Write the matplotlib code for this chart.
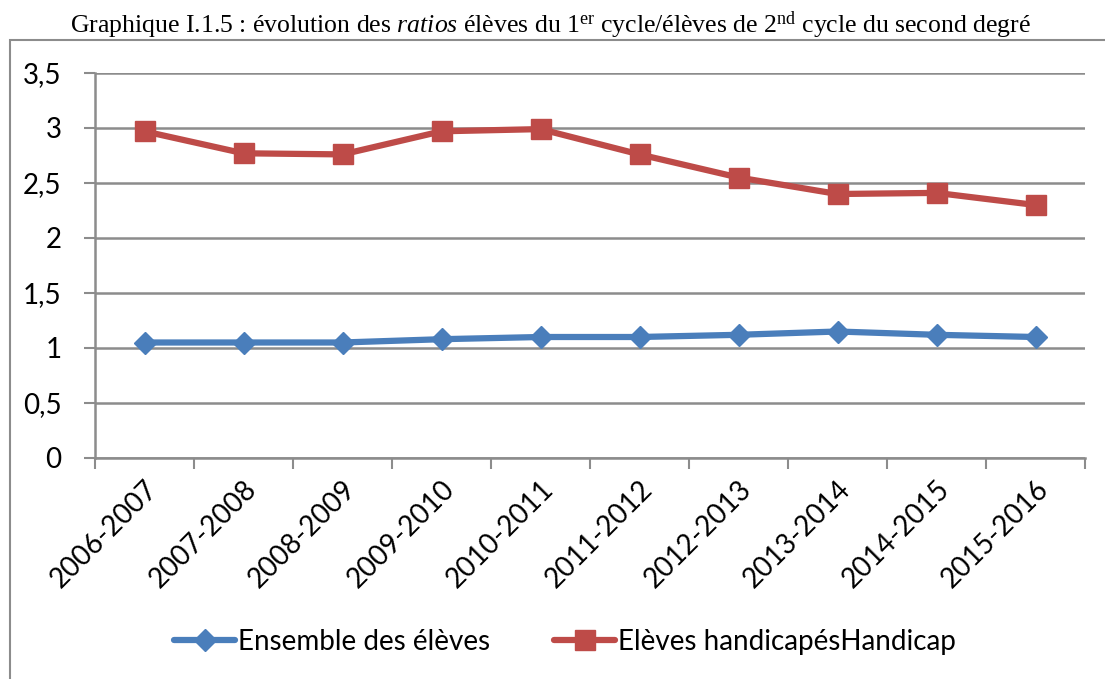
import matplotlib
matplotlib.use("Agg")
import matplotlib.pyplot as plt
from matplotlib.patches import Rectangle

categories = ["2006-2007", "2007-2008", "2008-2009", "2009-2010", "2010-2011",
              "2011-2012", "2012-2013", "2013-2014", "2014-2015", "2015-2016"]
ensemble = [1.05, 1.05, 1.05, 1.08, 1.10, 1.10, 1.12, 1.15, 1.12, 1.10]
handicap = [2.97, 2.77, 2.76, 2.97, 2.99, 2.76, 2.55, 2.40, 2.41, 2.30]
yticks = [0, 0.5, 1, 1.5, 2, 2.5, 3, 3.5]
ytick_labels = ["0", "0,5", "1", "1,5", "2", "2,5", "3", "3,5"]
series_names = ["Ensemble des élèves", "Elèves handicapésHandicap"]

plt.rcParams['mathtext.fontset'] = 'custom'
plt.rcParams['mathtext.rm'] = 'Liberation Serif'
plt.rcParams['mathtext.it'] = 'Liberation Serif:italic'

W, H = 1105, 679
fig = plt.figure(figsize=(W / 100, H / 100), dpi=100)

# outer frame
fig.patches.append(Rectangle((10 / W, -0.05), 1.2, (H - 40) / H + 0.05, transform=fig.transFigure,
                             fill=False, edgecolor="#8c8c8c", linewidth=1.5))

fig.text(550 / W, 1 - 25 / H,
         r"Graphique I.1.5 : évolution des $\it{ratios}$ élèves du 1$^{\rm er}$ cycle/élèves de 2$^{\rm nd}$ cycle du second degré",
         ha="center", va="center", fontsize=18.5, family="Liberation Serif")

ax = fig.add_axes([95 / W, 1 - 458 / H, (1085 - 95) / W, (458 - 73) / H])
x = list(range(len(categories)))
blue = "#4A7EBB"
red = "#BE4B48"
ax.plot(x, ensemble, color=blue, linewidth=4.5, marker="D", markersize=11,
        markeredgecolor=blue, label=series_names[0], solid_capstyle="round")
ax.plot(x, handicap, color=red, linewidth=4.5, marker="s", markersize=14,
        markeredgecolor=red, label=series_names[1], solid_capstyle="round")

ax.set_xlim(-0.5, len(categories) - 0.5)
ax.set_ylim(0, 3.5)
ax.set_yticks(yticks)
ax.set_yticklabels(ytick_labels, fontsize=20, family="Lato")
ax.set_xticks(x)
ax.set_xticklabels(categories, rotation=45, ha="right", rotation_mode="anchor",
                   fontsize=20, family="Lato")
ax.tick_params(axis="x", length=0, pad=13)
ax.tick_params(axis="y", length=8, color="#8c8c8c", width=1.5, pad=16)
ax.set_xticks([i - 0.5 for i in range(len(categories) + 1)], minor=True)
ax.tick_params(axis="x", which="minor", length=8, color="#8c8c8c", width=1.5, direction="out")
ax.grid(axis="y", color="#8c8c8c", linewidth=1.8)
ax.set_axisbelow(True)
for s in ["top", "right"]:
    ax.spines[s].set_visible(False)
for s in ["left", "bottom"]:
    ax.spines[s].set_color("#8c8c8c")
    ax.spines[s].set_linewidth(1.8)

fig.legend(loc="center", bbox_to_anchor=(565 / W, 1 - 642 / H), ncol=2, frameon=False,
           prop={"family": "Lato", "size": 20}, handlelength=2.2, columnspacing=2.3,
           handletextpad=0.1, markerscale=1.0)

fig.savefig("out.png", dpi=100)
